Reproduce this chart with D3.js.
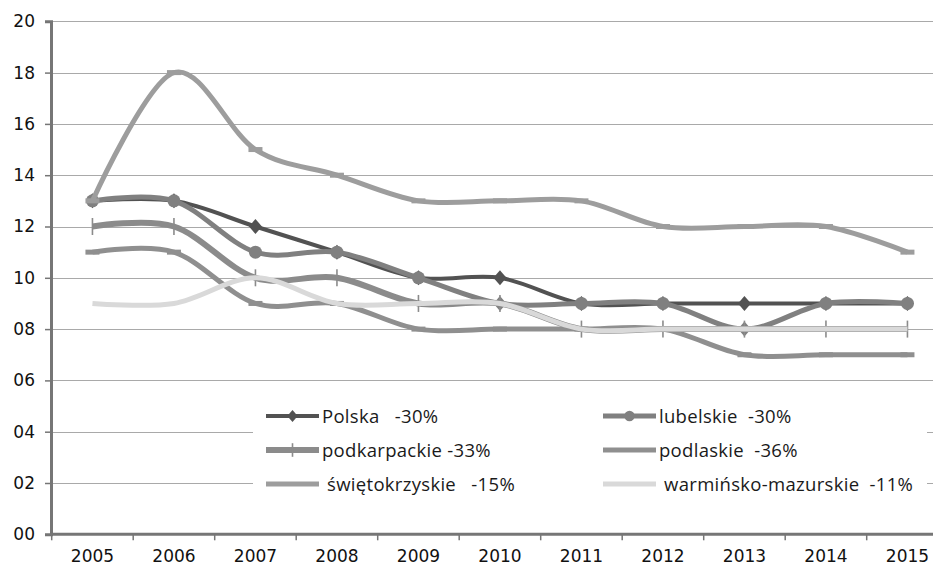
<!DOCTYPE html>
<html>
<head>
<meta charset="utf-8">
<script src="https://cdn.jsdelivr.net/npm/d3@7/dist/d3.min.js"></script>
<style>
  html, body { margin: 0; padding: 0; background: #fff; }
  svg { display: block; }
  .leg text { white-space: pre; }
</style>
</head>
<body>
<svg id="chart" width="933" height="569"></svg>
<script>
// Years on the category axis
const years = ["2005","2006","2007","2008","2009","2010","2011","2012","2013","2014","2015"];

// Series values per year
const polska         = [13, 13, 12, 11, 10, 10, 9, 9, 9, 9, 9];
const lubelskie      = [13, 13, 11, 11, 10, 9, 9, 9, 8, 9, 9];
const podkarpackie   = [12, 12, 10, 10, 9, 9, 8, 8, 8, 8, 8];
const podlaskie      = [11, 11, 9, 9, 8, 8, 8, 8, 7, 7, 7];
const swietokrzyskie = [13, 18, 15, 14, 13, 13, 13, 12, 12, 12, 11];
const warminsko      = [9, 9, 10, 9, 9, 9, 8, 8, 8, 8, 8];

// Value-axis ticks and their printed labels
const yTicks = [0, 2, 4, 6, 8, 10, 12, 14, 16, 18, 20];
const yTickLabels = ["00","02","04","06","08","10","12","14","16","18","20"];

// Legend labels
const legendLabels = ["Polska   -30%", "lubelskie  -30%", "podkarpackie -33%", "podlaskie  -36%", " świętokrzyskie   -15%", " warmińsko-mazurskie  -11%"];

// Years where lubelskie is marked with a diamond instead of a dot
const lubelskieDiamondYears = ["2010", "2013"];

const series = [
  { values: polska,         color: "#525252", width: 4, marker: "diamond" },
  { values: lubelskie,      color: "#808080", width: 5, marker: "circle" },
  { values: podkarpackie,   color: "#8b8b8b", width: 6, marker: "tick" },
  { values: podlaskie,      color: "#8f8f8f", width: 5, marker: "dash" },
  { values: swietokrzyskie, color: "#9d9d9d", width: 5, marker: "dash" },
  { values: warminsko,      color: "#d9d9d9", width: 5, marker: "none" }
];
series.forEach((s, i) => s.label = legendLabels[i]);

const svg = d3.select("#chart");
const W = 933, H = 569;

const x = d3.scaleBand().domain(years).range([51.7, 948.2]);
const y = d3.scaleLinear().domain([0, 20]).range([534.3, 21.3]);
const cx = d => x(d) + x.bandwidth() / 2;

const font = "'DejaVu Sans', Verdana, sans-serif";

// Horizontal gridlines
svg.append("g")
  .selectAll("line")
  .data(yTicks.filter(v => v > 0))
  .join("line")
  .attr("x1", 51).attr("x2", W)
  .attr("y1", d => Math.round(y(d)) + 0.5).attr("y2", d => Math.round(y(d)) + 0.5)
  .attr("stroke", "#a9a9a9").attr("stroke-width", 1);

// Value axis
const yAxis = d3.axisLeft(y).tickValues(yTicks)
  .tickFormat((d, i) => yTickLabels[i]).tickSize(6).tickPadding(10);
const gy = svg.append("g").attr("transform", "translate(51,0)").call(yAxis);
gy.select(".domain").attr("stroke", "#767676").attr("stroke-width", 3);
gy.selectAll(".tick line").attr("stroke", "#767676").attr("stroke-width", 1.5);
gy.selectAll(".tick text").attr("font-family", font).attr("font-size", 17).attr("fill", "#111");

// Category axis with ticks between categories
const gx = svg.append("g").attr("transform", "translate(0,534.3)");
gx.append("line").attr("x1", 50).attr("x2", W).attr("y1", 0).attr("y2", 0)
  .attr("stroke", "#767676").attr("stroke-width", 3);
gx.selectAll("line.tk")
  .data(years.concat(["end"]))
  .join("line").attr("class", "tk")
  .attr("x1", (d, i) => x.range()[0] + i * x.step())
  .attr("x2", (d, i) => x.range()[0] + i * x.step())
  .attr("y1", 0).attr("y2", 6)
  .attr("stroke", "#767676").attr("stroke-width", 1.5);
gx.selectAll("text")
  .data(years)
  .join("text")
  .attr("x", d => cx(d)).attr("y", 28)
  .attr("text-anchor", "middle")
  .attr("font-family", font).attr("font-size", 17).attr("fill", "#111")
  .text(d => d);

// Legend background sits under the series
const legend = svg.append("g").attr("class", "leg");
legend.append("rect").attr("x", 253).attr("y", 391).attr("width", 674).attr("height", 114).attr("fill", "#fff");

// Smoothed line generator
const line = d3.line()
  .x((d, i) => cx(years[i]))
  .y(d => y(d))
  .curve(d3.curveCardinal.tension(0));

function drawMarker(g, kind, px, py, color, scale) {
  const k = scale || 1;
  if (kind === "diamond") {
    g.append("path")
      .attr("d", `M${px},${py - 7.5 * k}L${px + 6.5 * k},${py}L${px},${py + 7.5 * k}L${px - 6.5 * k},${py}Z`)
      .attr("fill", color);
  } else if (kind === "circle") {
    g.append("circle").attr("cx", px).attr("cy", py).attr("r", 6.5 * k).attr("fill", color);
  } else if (kind === "tick") {
    g.append("line").attr("x1", px).attr("x2", px).attr("y1", py - 8.5 * k).attr("y2", py + 8.5 * k)
      .attr("stroke", color).attr("stroke-width", 1.6);
  } else if (kind === "dash") {
    g.append("rect").attr("x", px - 7 * k).attr("y", py - 2.5 * k).attr("width", 14 * k).attr("height", 5 * k)
      .attr("fill", color);
  }
}

// Each series: its line, then its markers
series.forEach((s, si) => {
  const g = svg.append("g");
  g.append("path")
    .attr("d", line(s.values))
    .attr("fill", "none")
    .attr("stroke", s.color)
    .attr("stroke-width", s.width)
    .attr("stroke-linejoin", "round");
  s.values.forEach((v, i) => {
    let kind = s.marker;
    if (si === 1 && lubelskieDiamondYears.includes(years[i])) kind = "diamond";
    drawMarker(g, kind, cx(years[i]), y(v), s.color);
  });
});

// Legend entries
const legPos = [
  [266, 416], [603, 416],
  [266, 450], [603, 450],
  [266, 484], [603, 484]
];
series.forEach((s, i) => {
  const [lx, ly] = legPos[i];
  legend.append("line").attr("x1", lx).attr("x2", lx + 53).attr("y1", ly).attr("y2", ly)
    .attr("stroke", s.color).attr("stroke-width", s.width);
  drawMarker(legend, s.marker === "dash" ? "none" : s.marker, lx + 26.5, ly, s.color, 0.8);
  legend.append("text")
    .attr("x", lx + 56).attr("y", ly + 6.5)
    .attr("font-family", "'Open Sans', sans-serif").attr("font-size", 18.5).attr("fill", "#1a1a1a")
    .attr("letter-spacing", 0.3)
    .attr("xml:space", "preserve")
    .text(s.label);
});
</script>
</body>
</html>
